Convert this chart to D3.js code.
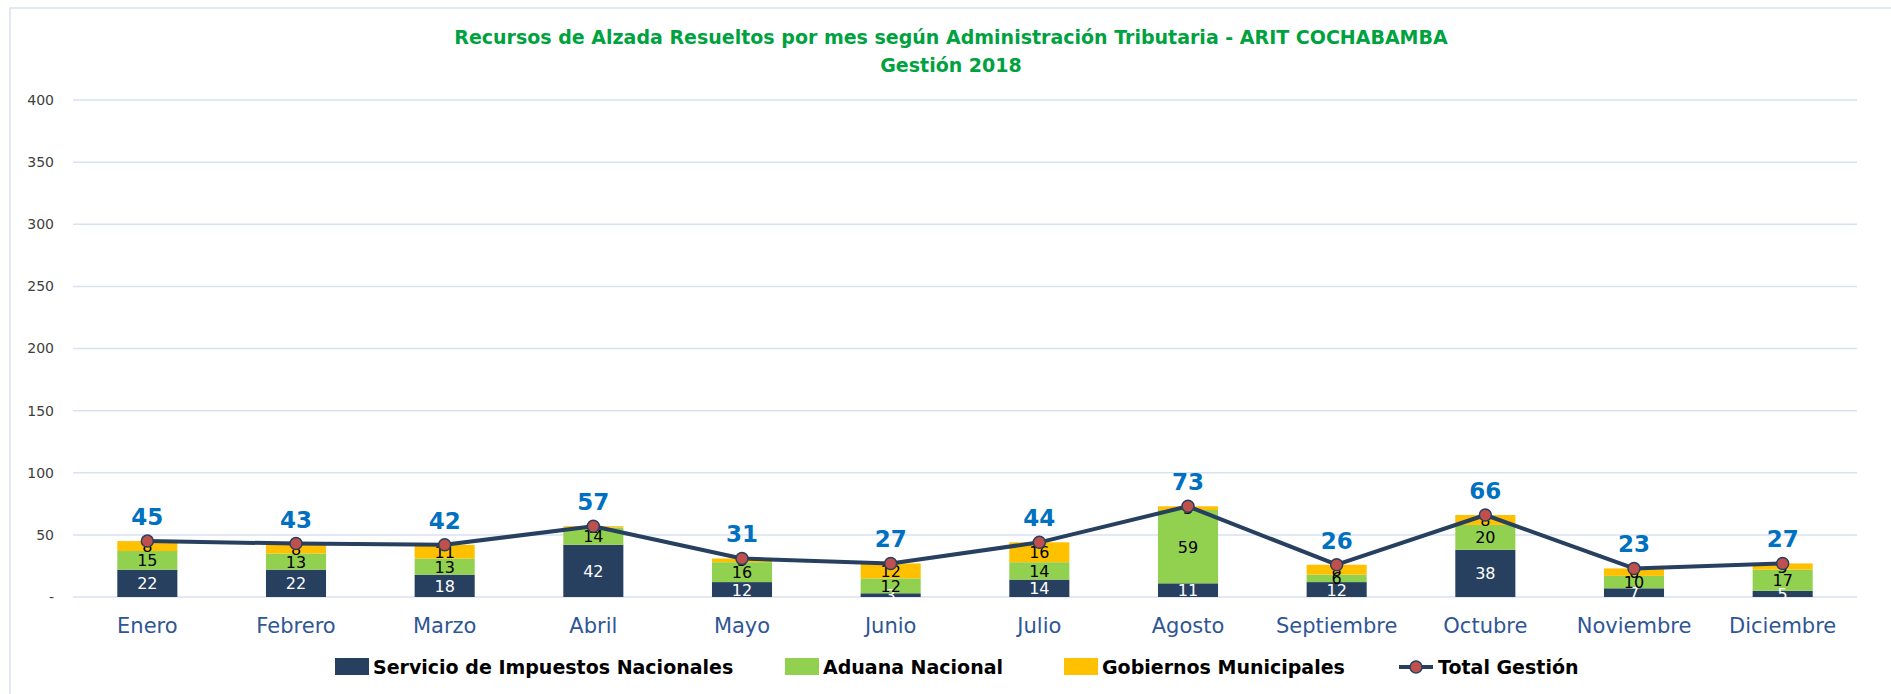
<!DOCTYPE html>
<html><head><meta charset="utf-8">
<script src="https://cdn.jsdelivr.net/npm/d3@7"></script>
<style>
html,body{margin:0;padding:0;background:#fff;}
svg{display:block;}
text{font-family:"Century Gothic","DejaVu Sans",sans-serif;}
</style></head>
<body>
<svg id="chart" width="1891" height="694"></svg>
<script>
const months = ["Enero","Febrero","Marzo","Abril","Mayo","Junio","Julio","Agosto","Septiembre","Octubre","Noviembre","Diciembre"];
const sin = [22,22,18,42,12,3,14,11,12,38,7,5];
const aduana = [15,13,13,14,16,12,14,59,6,20,10,17];
const gobiernos = [8,8,11,1,3,12,16,3,8,8,6,5];
const total = [45,43,42,57,31,27,44,73,26,66,23,27];
const yTicks = [0,50,100,150,200,250,300,350,400];
const seriesNames = ["Servicio de Impuestos Nacionales","Aduana Nacional","Gobiernos Municipales","Total Gestión"];
const colors = ["#27405F","#92D050","#FFC000"];
const titleLines = ["Recursos de Alzada Resueltos por mes según Administración Tributaria - ARIT COCHABAMBA","Gestión 2018"];

(function(){
const svg = d3.select("#chart");
const W = 1891, H = 694;
const pLeft = 73, pRight = 1857, pTop = 100, pBottom = 597;

svg.append("path").attr("d", `M10,${H} L10,8 L${W},8`).attr("fill","none").attr("stroke","#D9E2F1").attr("stroke-width",1.5);

svg.append("text").attr("x", 951).attr("y", 44).attr("text-anchor","middle")
  .attr("font-size",19).attr("font-weight","bold").attr("fill","#00A23F").text(titleLines[0]);
svg.append("text").attr("x", 951).attr("y", 72).attr("text-anchor","middle")
  .attr("font-size",19).attr("font-weight","bold").attr("fill","#00A23F").text(titleLines[1]);

const x = d3.scaleBand().domain(months).range([pLeft,pRight]).paddingInner(0.596).paddingOuter(0.298);
const y = d3.scaleLinear().domain([0,400]).range([pBottom, pTop]);

svg.append("g").selectAll("line").data(yTicks).join("line")
  .attr("x1", pLeft).attr("x2", pRight).attr("y1", d=>y(d)).attr("y2", d=>y(d))
  .attr("stroke","#D9E2F1").attr("stroke-width",1.5);

const yAxis = d3.axisLeft(y).tickValues(yTicks).tickSize(0).tickPadding(0)
  .tickFormat(d => d===0 ? "-" : d3.format("d")(d));
const yg = svg.append("g").attr("transform", `translate(54,0)`).call(yAxis);
yg.select(".domain").remove();
yg.selectAll("text").attr("font-size",14).attr("fill","#404040").attr("font-family",'"Century Gothic","DejaVu Sans",sans-serif');

const xAxis = d3.axisBottom(x).tickSize(0).tickPadding(0);
const xg = svg.append("g").attr("transform", `translate(0,${pBottom+21})`).call(xAxis);
xg.select(".domain").remove();
xg.selectAll("text").attr("font-size",21).attr("fill","#2F5597").attr("font-family",'"Century Gothic","DejaVu Sans",sans-serif');

const rows = months.map((m,i)=>({month:m, s0:sin[i], s1:aduana[i], s2:gobiernos[i]}));
const stack = d3.stack().keys(["s0","s1","s2"])(rows);
const labelColors = ["#FFFFFF","#000000","#000000"];
stack.forEach((layer, li) => {
  svg.append("g").selectAll("rect").data(layer).join("rect")
    .attr("x", d=>x(d.data.month)).attr("width", x.bandwidth())
    .attr("y", d=>y(d[1])).attr("height", d=>y(d[0])-y(d[1]))
    .attr("fill", colors[li]);
});
stack.forEach((layer, li) => {
  svg.append("g").selectAll("text").data(layer).join("text")
    .attr("x", d=>x(d.data.month)+x.bandwidth()/2)
    .attr("y", d=>(y(d[0])+y(d[1]))/2 + 6)
    .attr("text-anchor","middle").attr("font-size",16).attr("fill", labelColors[li])
    .text(d=>d[1]-d[0]);
});

const cx = m => x(m)+x.bandwidth()/2;
const line = d3.line().x((d,i)=>cx(months[i])).y(d=>y(d));
svg.append("path").datum(total).attr("d", line).attr("fill","none")
  .attr("stroke","#27405F").attr("stroke-width",4).attr("stroke-linejoin","round");
svg.append("g").selectAll("circle").data(total).join("circle")
  .attr("cx",(d,i)=>cx(months[i])).attr("cy", d=>y(d)).attr("r",6)
  .attr("fill","#C0504D").attr("stroke","#27405F").attr("stroke-width",1.5);
svg.append("g").selectAll("text").data(total).join("text")
  .attr("x",(d,i)=>cx(months[i])).attr("y", d=>y(d)-16)
  .attr("text-anchor","middle").attr("font-size",23).attr("font-weight","bold").attr("fill","#0070C0")
  .text(d=>d);

const lg = svg.append("g");
const legendX = [335, 785, 1064, 1399];
const ly = 667;
[0,1,2].forEach(i=>{
  lg.append("rect").attr("x",legendX[i]).attr("y",ly-9).attr("width",34).attr("height",17).attr("fill",colors[i]);
  lg.append("text").attr("x",legendX[i]+38).attr("y",ly+7).attr("font-size",19).attr("font-weight","bold").attr("fill","#000").text(seriesNames[i]);
});
lg.append("line").attr("x1",legendX[3]).attr("x2",legendX[3]+34).attr("y1",ly).attr("y2",ly).attr("stroke","#27405F").attr("stroke-width",4);
lg.append("circle").attr("cx",legendX[3]+17).attr("cy",ly).attr("r",6).attr("fill","#C0504D").attr("stroke","#27405F").attr("stroke-width",1.5);
lg.append("text").attr("x",legendX[3]+39).attr("y",ly+7).attr("font-size",19).attr("font-weight","bold").attr("fill","#000").text(seriesNames[3]);
})();
</script>
</body></html>
